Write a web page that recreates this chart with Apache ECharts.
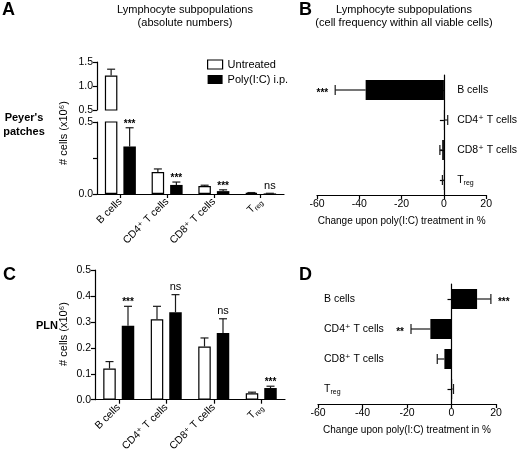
<!DOCTYPE html>
<html>
<head>
<meta charset="utf-8">
<script src="https://cdn.jsdelivr.net/npm/echarts@6/dist/echarts.min.js"></script>
<style>
html,body{margin:0;padding:0;background:#fff;}
#c{width:520px;height:454px;}
</style>
</head>
<body>
<div id="c"></div>
<script>
// ---------- data ----------
const categories = ['B cells', 'CD4⁺ T cells', 'CD8⁺ T cells', 'Treg'];

// Panel A: Peyer's patches, absolute numbers (x10^6)
const ppUntreated    = [1.22, 0.153, 0.055, 0.008];
const ppUntreatedSem = [0.13, 0.021, 0.006, 0.002];
const ppPoly         = [0.33, 0.063, 0.020, 0.004];
const ppPolySem      = [0.13, 0.020, 0.009, 0.001];
const ppSig          = ['***', '***', '***', 'ns'];

// Panel C: PLN, absolute numbers (x10^6)
const plnUntreated    = [0.120, 0.310, 0.205, 0.025];
const plnUntreatedSem = [0.027, 0.050, 0.033, 0.004];
const plnPoly         = [0.285, 0.337, 0.257, 0.045];
const plnPolySem      = [0.075, 0.068, 0.055, 0.007];
const plnSig          = ['***', 'ns', 'ns', '***'];

// Panel B: Peyer's patches, change in frequency (%)
const ppChange    = [-37, 0.3, -0.8, -0.1];
const ppChangeSem = [14.4, 1.5, 1.1, 0.6];
const ppChangeSig = ['***', '', '', ''];

// Panel D: PLN, change in frequency (%)
const plnChange    = [11.5, -9.5, -3.2, 0.3];
const plnChangeSem = [6.2, 8.7, 3.2, 0.6];
const plnChangeSig = ['***', '**', '', ''];

// axis breaks / ticks
const breakAt = 0.5;
const absUpperTicks = {min: 0.5, max: 1.5, interval: 0.5};
const absLowerTicks = {min: 0, max: 0.5, interval: 0.25};
const plnTicks = {min: 0, max: 0.5, interval: 0.1};
const changeTicks = {min: -60, max: 20, interval: 20};

// ---------- helpers ----------
const FONT = '"Liberation Sans", Arial, "DejaVu Sans", sans-serif';
const BLACK = '#000';
const rich = {
  n: {fontSize: 10.5, color: BLACK, fontFamily: FONT, lineHeight: 13},
  sub: {fontSize: 7, color: BLACK, fontFamily: FONT, verticalAlign: 'bottom', lineHeight: 9}
};
function catLabel(v) { return v === 'Treg' ? '{n|T}{sub|reg}' : '{n|' + v + '}'; }

const lineStyle = {color: BLACK, width: 1.2};
function valueAxis(grid, t, fmt, extra) {
  return Object.assign({
    gridIndex: grid, type: 'value', min: t.min, max: t.max, interval: t.interval,
    axisLine: {show: true, onZero: false, lineStyle},
    axisTick: {show: true, length: 4, lineStyle},
    axisLabel: {color: BLACK, fontSize: 10.5, fontFamily: FONT, margin: 4, formatter: fmt},
    splitLine: {show: false}
  }, extra || {});
}
function catXAxis(grid, show) {
  return {
    gridIndex: grid, type: 'category', data: categories, show: show,
    axisLine: {show: true, onZero: false, lineStyle},
    axisTick: {show: true, alignWithLabel: true, length: 4, lineStyle},
    axisLabel: {rotate: 45, margin: 6, formatter: catLabel, rich: rich, interval: 0}
  };
}

const BAR_W = 12.5, BAR_GAP = 0.48;
const OFF = (BAR_W + BAR_W * BAR_GAP) / 2;

function vBars(xi, yi, data, name, fill) {
  return {
    type: 'bar', name: name, xAxisIndex: xi, yAxisIndex: yi, data: data,
    barWidth: BAR_W, barGap: (BAR_GAP * 100) + '%',
    itemStyle: fill === 'white' ? {color: '#fff', borderColor: BLACK, borderWidth: 1.2} : {color: BLACK},
    clip: true, z: 2
  };
}
function vErr(xi, yi, vals, sems, sig, offset, keep) {
  const data = [];
  vals.forEach((v, i) => { if (keep(v, v + sems[i])) data.push([i, v, v + sems[i]]); });
  return {
    type: 'custom', xAxisIndex: xi, yAxisIndex: yi, data: data, z: 3, silent: true,
    encode: {x: 0, y: [1, 2]},
    renderItem: function (params, api) {
      const i = api.value(0);
      const p0 = api.coord([i, api.value(1)]);
      const p1 = api.coord([i, api.value(2)]);
      const x = p0[0] + offset;
      const st = {stroke: '#1a1a1a', lineWidth: 1.2};
      const ch = [
        {type: 'line', shape: {x1: x, y1: p0[1], x2: x, y2: p1[1]}, style: st},
        {type: 'line', shape: {x1: x - 4, y1: p1[1], x2: x + 4, y2: p1[1]}, style: st}
      ];
      if (sig && sig[i]) {
        ch.push({type: 'text', x: x, y: p1[1] - (sig[i] === 'ns' ? 2 : -1),
          style: {text: sig[i], textAlign: 'center', textVerticalAlign: 'bottom',
            font: (sig[i] === 'ns' ? '11px ' : 'bold 10px ') + FONT, fill: BLACK}});
      }
      return {type: 'group', children: ch};
    }
  };
}
function hBars(xi, yi, data) {
  return {type: 'bar', name: 'change', xAxisIndex: xi, yAxisIndex: yi, data: data,
    barWidth: 20, itemStyle: {color: BLACK}, z: 2};
}
function hErr(xi, yi, vals, sems, sig) {
  const data = vals.map((v, i) => [v, i, v + (v < 0 ? -1 : 1) * sems[i]]);
  return {
    type: 'custom', xAxisIndex: xi, yAxisIndex: yi, data: data, z: 3, silent: true,
    encode: {x: [0, 2], y: 1},
    renderItem: function (params, api) {
      const i = api.value(1);
      const p0 = api.coord([api.value(0), i]);
      const p1 = api.coord([api.value(2), i]);
      const st = {stroke: '#1a1a1a', lineWidth: 1.2};
      const ch = [
        {type: 'line', shape: {x1: p0[0], y1: p0[1], x2: p1[0], y2: p1[1]}, style: st},
        {type: 'line', shape: {x1: p1[0], y1: p1[1] - 5, x2: p1[0], y2: p1[1] + 5}, style: st}
      ];
      if (sig && sig[i]) {
        const neg = api.value(2) < 0;
        ch.push({type: 'text', x: p1[0] + (neg ? -7 : 7), y: p1[1] + 3,
          style: {text: sig[i], textAlign: neg ? 'right' : 'left', textVerticalAlign: 'middle',
            font: 'bold 10px ' + FONT, fill: BLACK}});
      }
      return {type: 'group', children: ch};
    }
  };
}
function changeXAxis(grid) {
  return valueAxis(grid, changeTicks, v => String(v), {
    name: 'Change upon poly(I:C) treatment in %', nameLocation: 'middle', nameGap: 21,
    nameTextStyle: {color: BLACK, fontSize: 10, fontFamily: FONT}
  });
}
function zeroYAxis(grid) {
  return {gridIndex: grid, type: 'category', data: categories, inverse: true, position: 'left',
    axisLine: {show: true, onZero: true, lineStyle},
    axisTick: {show: true, alignWithLabel: true, length: 4, lineStyle},
    axisLabel: {show: false}, splitLine: {show: false}};
}

const fmt1 = v => v.toFixed(1);
const fmtLower = v => (Math.abs(v - 0.25) < 1e-9 ? '' : v.toFixed(1));

const chart = echarts.init(document.getElementById('c'), null, {renderer: 'canvas'});
const option = {
  animation: false,
  backgroundColor: '#fff',
  textStyle: {fontFamily: FONT, color: BLACK},
  grid: [
    {left: 97, top: 62, width: 187, height: 48},     // A upper
    {left: 97, top: 122, width: 187, height: 72},    // A lower
    {left: 317, top: 75, width: 177, height: 120},   // B
    {left: 95, top: 270, width: 190, height: 133},   // C
    {left: 318, top: 284, width: 178, height: 120}   // D
  ],
  xAxis: [
    catXAxis(0, false),
    catXAxis(1, true),
    changeXAxis(2),
    catXAxis(3, true),
    changeXAxis(4)
  ],
  yAxis: [
    valueAxis(0, absUpperTicks, fmt1),
    valueAxis(1, absLowerTicks, fmtLower),
    zeroYAxis(2),
    {gridIndex: 2, type: 'category', data: categories, inverse: true, position: 'right', offset: -44,
      axisLine: {show: false, onZero: false}, axisTick: {show: false},
      axisLabel: {margin: 15, formatter: catLabel, rich: rich}},
    valueAxis(3, plnTicks, fmt1),
    zeroYAxis(4),
    {gridIndex: 4, type: 'category', data: categories, inverse: true, position: 'left',
      axisLine: {show: false, onZero: false}, axisTick: {show: false},
      axisLabel: {inside: true, margin: 6, formatter: catLabel, rich: rich}}
  ],
  legend: {
    left: 202, top: 54, orient: 'vertical', itemWidth: 15, itemHeight: 9, itemGap: 4,
    textStyle: {fontSize: 11, color: BLACK, fontFamily: FONT},
    data: [
      {name: 'Untreated', icon: 'rect', itemStyle: {color: '#fff', borderColor: BLACK, borderWidth: 1.2}},
      {name: 'Poly(I:C) i.p.', icon: 'rect', itemStyle: {color: BLACK}}
    ]
  },
  series: [
    // A upper segment
    vBars(0, 0, ppUntreated.map(v => v > breakAt ? v : '-'), 'Untreated', 'white'),
    vBars(0, 0, ppPoly.map(v => v > breakAt ? v : '-'), 'Poly(I:C) i.p.', 'black'),
    vErr(0, 0, ppUntreated, ppUntreatedSem, null, -OFF, (v, e) => v > breakAt),
    vErr(0, 0, ppPoly, ppPolySem, ppSig, OFF, (v, e) => v > breakAt),
    // A lower segment
    vBars(1, 1, ppUntreated, 'Untreated', 'white'),
    vBars(1, 1, ppPoly, 'Poly(I:C) i.p.', 'black'),
    vErr(1, 1, ppUntreated, ppUntreatedSem, null, -OFF, (v, e) => e <= breakAt),
    vErr(1, 1, ppPoly, ppPolySem, ppSig, OFF, (v, e) => e <= breakAt),
    // B
    hBars(2, 2, ppChange),
    hErr(2, 2, ppChange, ppChangeSem, ppChangeSig),
    // C
    vBars(3, 4, plnUntreated, 'Untreated', 'white'),
    vBars(3, 4, plnPoly, 'Poly(I:C) i.p.', 'black'),
    vErr(3, 4, plnUntreated, plnUntreatedSem, null, -OFF, () => true),
    vErr(3, 4, plnPoly, plnPolySem, plnSig, OFF, () => true),
    // D
    hBars(4, 5, plnChange),
    hErr(4, 5, plnChange, plnChangeSem, plnChangeSig)
  ],
  graphic: [
    {type: 'text', left: 2, top: 1, style: {text: 'A', font: 'bold 18px ' + FONT, fill: BLACK}},
    {type: 'text', left: 299, top: 1, style: {text: 'B', font: 'bold 18px ' + FONT, fill: BLACK}},
    {type: 'text', left: 3, top: 266, style: {text: 'C', font: 'bold 18px ' + FONT, fill: BLACK}},
    {type: 'text', left: 299, top: 266, style: {text: 'D', font: 'bold 18px ' + FONT, fill: BLACK}},
    {type: 'text', x: 185, y: 3, style: {text: 'Lymphocyte subpopulations\n(absolute numbers)',
      textAlign: 'center', font: '11px ' + FONT, lineHeight: 13, fill: BLACK}},
    {type: 'text', x: 404, y: 3, style: {text: 'Lymphocyte subpopulations\n(cell frequency within all viable cells)',
      textAlign: 'center', font: '11px ' + FONT, lineHeight: 13, fill: BLACK}},
    {type: 'text', x: 24, y: 111, style: {text: "Peyer's\npatches", textAlign: 'center',
      font: 'bold 11px ' + FONT, lineHeight: 14, fill: BLACK}},
    {type: 'text', x: 47, y: 326, style: {text: 'PLN', textAlign: 'center', textVerticalAlign: 'middle',
      font: 'bold 11px ' + FONT, fill: BLACK}},
    {type: 'text', x: 64, y: 133, rotation: Math.PI / 2, style: {text: '# cells (x10⁶)', textAlign: 'center',
      textVerticalAlign: 'middle', font: '11px ' + FONT, fill: BLACK}},
    {type: 'text', x: 64, y: 334, rotation: Math.PI / 2, style: {text: '# cells (x10⁶)', textAlign: 'center',
      textVerticalAlign: 'middle', font: '11px ' + FONT, fill: BLACK}}
  ]
};
chart.setOption(option);
</script>
</body>
</html>
